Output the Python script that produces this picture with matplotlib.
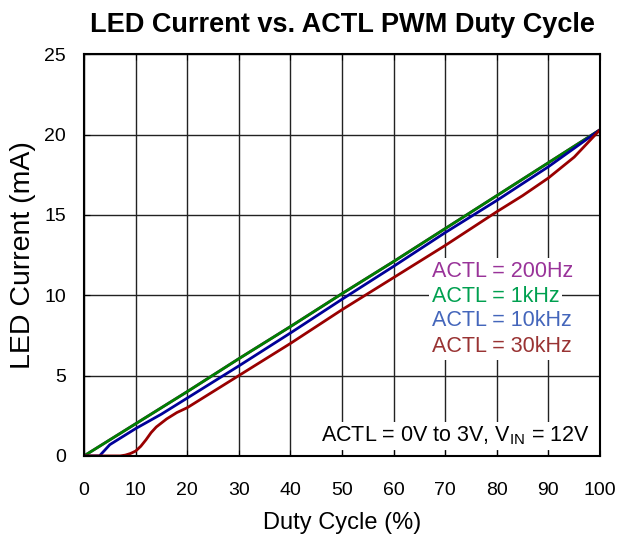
import matplotlib
matplotlib.use("Agg")
import matplotlib.pyplot as plt

plt.rcParams['font.family'] = ['Liberation Sans', 'DejaVu Sans']

duty_green = [0, 2, 5, 10, 20, 30, 40, 50, 60, 70, 80, 90, 100]
cur_green = [0, 0.4, 1.0, 2.0, 4.0, 6.05, 8.05, 10.1, 12.1, 14.15, 16.2, 18.25, 20.3]
duty_purple = duty_green
cur_purple = cur_green

duty_blue = [0, 3, 5, 8, 10, 15, 20, 30, 40, 50, 60, 70, 80, 90, 100]
cur_blue = [0, 0, 0.7, 1.3, 1.7, 2.6, 3.6, 5.6, 7.65, 9.75, 11.8, 13.9, 15.9, 18.0, 20.3]

duty_red = [0, 7, 8, 9, 10, 11, 12, 13, 14, 15, 16, 18, 20, 25, 30, 40, 50, 60, 70, 80, 85, 90, 95, 100]
cur_red = [0, 0, 0.05, 0.15, 0.3, 0.6, 1.0, 1.45, 1.8, 2.05, 2.3, 2.7, 3.0, 4.0, 5.0, 7.0, 9.1, 11.1, 13.1, 15.2, 16.2, 17.3, 18.6, 20.3]

legend_labels = ["ACTL = 200Hz", "ACTL = 1kHz", "ACTL = 10kHz", "ACTL = 30kHz"]
legend_colors = ["#993399", "#00a050", "#4466bb", "#993333"]

fig = plt.figure(figsize=(6.27, 5.37), dpi=100)
ax = fig.add_axes([0.134, 0.151, 0.823, 0.748])

ax.plot(duty_purple, cur_purple, color="#800080", lw=2)
ax.plot(duty_green, cur_green, color="#008000", lw=2)
ax.plot(duty_blue, cur_blue, color="#000099", lw=2)
ax.plot(duty_red, cur_red, color="#990000", lw=2)

ax.set_xlim(0, 100)
ax.set_ylim(0, 25)
ax.set_xticks(range(0, 101, 10))
ax.set_yticks(range(0, 26, 5))
ax.grid(True, color="#222222", lw=1)
ax.set_axisbelow(True)
ax.tick_params(direction="in", length=4, top=True, right=False, labelsize=14)
ax.tick_params(axis='x', pad=19)
ax.tick_params(axis='y', pad=13)
for s in ax.spines.values():
    s.set_linewidth(1.5)

ax.set_xlabel("Duty Cycle (%)", fontsize=17, labelpad=9)
ax.set_ylabel("LED Current (mA)", fontsize=20.5, labelpad=6)
ax.set_title("LED Current vs. ACTL PWM Duty Cycle", fontsize=19.5, fontweight="bold", pad=16)

ys = [11.5, 9.95, 8.4, 6.8]
for lab, col, y in zip(legend_labels, legend_colors, ys):
    ax.text(67.4, y, lab, color=col, fontsize=15.5, va="center", ha="left", zorder=5,
            bbox=dict(facecolor="white", edgecolor="none", pad=2))

ax.text(98, 1.24, r"ACTL = 0V to 3V, V$_{\mathregular{IN}}$ = 12V", fontsize=15.5, zorder=5,
        ha="right", va="center", bbox=dict(facecolor="white", edgecolor="none", pad=2))

fig.savefig("out.png", dpi=100)
